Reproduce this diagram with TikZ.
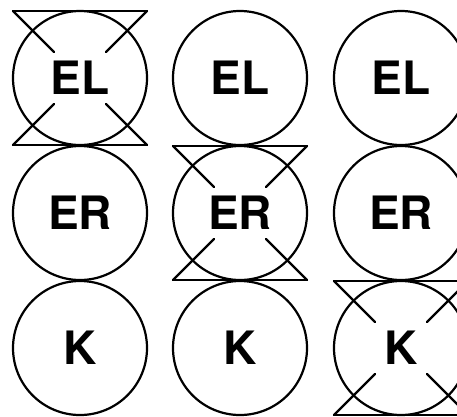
\documentclass[tikz,border=0pt]{standalone}
\usepackage{fontspec}
\setmainfont{TeX Gyre Heros}
\newcommand\crossout[1]{%
  \begin{scope}[shift={(#1.center)}]
    \draw[xline] (-67,-67) -- (67,-67);
    \draw[xline] (-67,67) -- (67,67);
    \draw[xline] (-67,-67) -- (-26,-26);
    \draw[xline] (67,-67) -- (26,-26);
    \draw[xline] (-67,67) -- (-26,26);
    \draw[xline] (67,67) -- (26,26);
  \end{scope}}
\begin{document}
\begin{tikzpicture}[x=1pt,y=-1pt,
  circ/.style={draw,circle,line width=2.2pt,minimum size=134pt,inner sep=0pt,
    font=\fontsize{46}{46}\selectfont\bfseries},
  xline/.style={line width=2.2pt,line cap=round}]
\useasboundingbox (0,0) rectangle (457,416);
\begin{scope}
\clip (0,0) rectangle (457,416);
\node[circ] (el1) at (80,78) {EL};
\node[circ] (el2) at (240,78) {EL};
\node[circ] (el3) at (401,78) {EL};
\node[circ] (er1) at (80,213) {ER};
\node[circ] (er2) at (240,213) {ER};
\node[circ] (er3) at (401,213) {ER};
\node[circ] (k1) at (80,348) {K};
\node[circ] (k2) at (240,348) {K};
\node[circ] (k3) at (401,348) {K};
\crossout{el1}
\crossout{er2}
\crossout{k3}
\end{scope}
\end{tikzpicture}
\end{document}
